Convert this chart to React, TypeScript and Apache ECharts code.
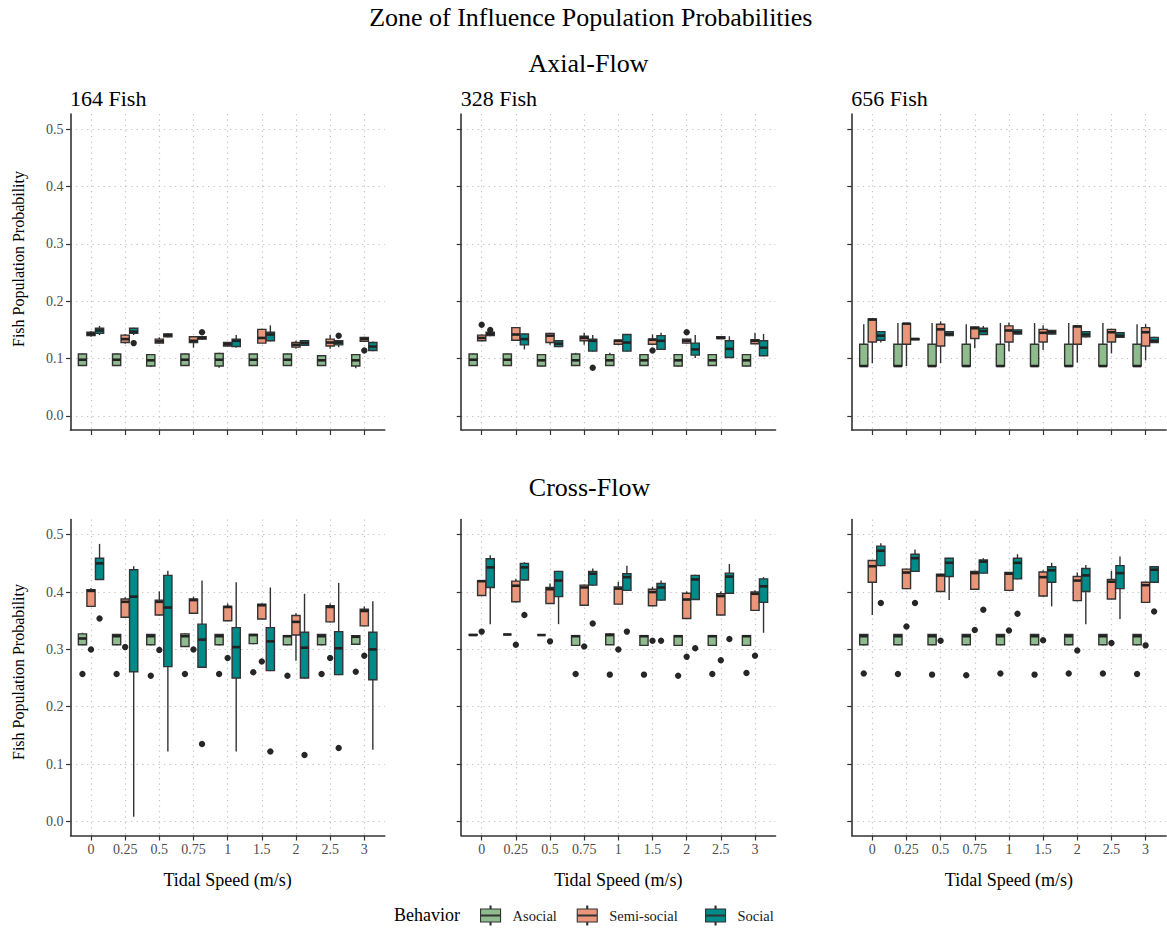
import React, { useEffect, useRef } from 'react';
import * as echarts from 'echarts';

const speedLabels = ['0', '0.25', '0.5', '0.75', '1', '1.5', '2', '2.5', '3'];
const behaviors = ['Asocial', 'Semi-social', 'Social'];
const behaviorColors = ['#8fbc8f', '#e9967a', '#008b8b'];
const yTicks = [0, 0.1, 0.2, 0.3, 0.4, 0.5];
const xTicks = [1, 2, 3, 4, 5, 6, 7, 8, 9];
const fishLabels = ['164 Fish', '328 Fish', '656 Fish'];
const flowLabels = ['Axial-Flow', 'Cross-Flow'];

// each row: [min, q1, median, q3, max] for one tidal speed
const axial164Asocial = [
  [0.087, 0.088, 0.098, 0.108, 0.109], [0.087, 0.088, 0.098, 0.108, 0.109], [0.086, 0.087, 0.097, 0.107, 0.108],
  [0.087, 0.088, 0.098, 0.108, 0.109], [0.084, 0.087, 0.098, 0.109, 0.110], [0.087, 0.088, 0.098, 0.108, 0.108],
  [0.087, 0.088, 0.098, 0.108, 0.109], [0.087, 0.088, 0.097, 0.105, 0.106], [0.083, 0.087, 0.097, 0.107, 0.108],
];
const axial164Semi = [
  [0.138, 0.140, 0.143, 0.146, 0.148], [0.126, 0.128, 0.134, 0.141, 0.143], [0.126, 0.127, 0.130, 0.134, 0.137],
  [0.119, 0.128, 0.131, 0.138, 0.139], [0.121, 0.122, 0.125, 0.128, 0.129], [0.127, 0.127, 0.136, 0.151, 0.152],
  [0.117, 0.120, 0.124, 0.128, 0.131], [0.117, 0.122, 0.128, 0.134, 0.141], [0.129, 0.130, 0.134, 0.137, 0.138],
];
const axial164Social = [
  [0.141, 0.144, 0.149, 0.153, 0.157], [0.141, 0.144, 0.147, 0.153, 0.154], [0.137, 0.138, 0.141, 0.143, 0.144],
  [0.133, 0.134, 0.136, 0.138, 0.139], [0.119, 0.121, 0.131, 0.134, 0.141], [0.130, 0.131, 0.142, 0.146, 0.158],
  [0.122, 0.123, 0.127, 0.131, 0.132], [0.120, 0.124, 0.128, 0.131, 0.132], [0.113, 0.114, 0.121, 0.128, 0.130],
];
// outliers: [speed index, behavior index, value]
const axial164Outliers = [
  [1, 2, 0.127], [3, 2, 0.146], [7, 2, 0.140], [8, 1, 0.114],
];

const axial328Asocial = [
  [0.087, 0.088, 0.098, 0.108, 0.109], [0.087, 0.088, 0.098, 0.108, 0.109], [0.086, 0.087, 0.097, 0.107, 0.108],
  [0.087, 0.088, 0.097, 0.108, 0.110], [0.087, 0.088, 0.097, 0.107, 0.110], [0.087, 0.088, 0.097, 0.107, 0.108],
  [0.086, 0.087, 0.097, 0.107, 0.108], [0.087, 0.088, 0.097, 0.107, 0.108], [0.086, 0.087, 0.097, 0.107, 0.108],
];
const axial328Semi = [
  [0.130, 0.131, 0.136, 0.141, 0.142], [0.131, 0.132, 0.142, 0.154, 0.155], [0.124, 0.128, 0.140, 0.144, 0.145],
  [0.124, 0.131, 0.136, 0.139, 0.145], [0.124, 0.125, 0.131, 0.132, 0.133], [0.124, 0.125, 0.133, 0.134, 0.142],
  [0.126, 0.127, 0.131, 0.134, 0.135], [0.135, 0.135, 0.136, 0.138, 0.138], [0.125, 0.126, 0.131, 0.133, 0.145],
];
const axial328Social = [
  [0.139, 0.140, 0.143, 0.146, 0.147], [0.116, 0.124, 0.134, 0.143, 0.144], [0.120, 0.121, 0.126, 0.131, 0.132],
  [0.112, 0.113, 0.131, 0.134, 0.141], [0.112, 0.113, 0.128, 0.142, 0.143], [0.115, 0.116, 0.131, 0.140, 0.145],
  [0.101, 0.106, 0.116, 0.127, 0.141], [0.101, 0.102, 0.117, 0.131, 0.139], [0.104, 0.105, 0.119, 0.131, 0.143],
];
const axial328Outliers = [
  [0, 1, 0.159], [0, 2, 0.150], [3, 2, 0.084], [5, 1, 0.114], [6, 1, 0.146],
];

const axial656Asocial = [
  [0.086, 0.087, 0.087, 0.125, 0.160], [0.086, 0.087, 0.087, 0.125, 0.162], [0.086, 0.087, 0.087, 0.125, 0.162],
  [0.086, 0.087, 0.087, 0.125, 0.160], [0.086, 0.087, 0.087, 0.125, 0.162], [0.086, 0.087, 0.087, 0.125, 0.162],
  [0.086, 0.087, 0.087, 0.125, 0.162], [0.086, 0.087, 0.087, 0.125, 0.162], [0.086, 0.087, 0.087, 0.125, 0.160],
];
const axial656Semi = [
  [0.092, 0.129, 0.168, 0.169, 0.169], [0.087, 0.125, 0.161, 0.161, 0.161], [0.092, 0.122, 0.151, 0.160, 0.165],
  [0.118, 0.135, 0.153, 0.155, 0.156], [0.113, 0.129, 0.149, 0.157, 0.163], [0.115, 0.129, 0.145, 0.151, 0.158],
  [0.093, 0.125, 0.156, 0.157, 0.157], [0.109, 0.129, 0.146, 0.151, 0.152], [0.097, 0.122, 0.146, 0.154, 0.160],
];
const axial656Social = [
  [0.128, 0.132, 0.140, 0.147, 0.148], [0.133, 0.133, 0.134, 0.135, 0.135], [0.139, 0.140, 0.143, 0.147, 0.148],
  [0.141, 0.142, 0.148, 0.153, 0.157], [0.142, 0.143, 0.146, 0.150, 0.151], [0.142, 0.143, 0.146, 0.149, 0.150],
  [0.137, 0.138, 0.142, 0.147, 0.148], [0.136, 0.137, 0.140, 0.145, 0.146], [0.127, 0.128, 0.131, 0.137, 0.138],
];
const axial656Outliers: number[][] = [];

const cross164Asocial = [
  [0.307, 0.308, 0.319, 0.327, 0.329], [0.307, 0.308, 0.323, 0.326, 0.327], [0.307, 0.308, 0.323, 0.326, 0.327],
  [0.305, 0.305, 0.323, 0.327, 0.328], [0.307, 0.308, 0.323, 0.326, 0.327], [0.309, 0.310, 0.325, 0.326, 0.327],
  [0.307, 0.308, 0.323, 0.324, 0.325], [0.307, 0.308, 0.323, 0.326, 0.327], [0.308, 0.309, 0.322, 0.324, 0.325],
];
const cross164Semi = [
  [0.374, 0.375, 0.402, 0.404, 0.407], [0.355, 0.356, 0.383, 0.388, 0.391], [0.359, 0.360, 0.383, 0.386, 0.401],
  [0.362, 0.363, 0.386, 0.388, 0.392], [0.349, 0.350, 0.374, 0.375, 0.380], [0.352, 0.353, 0.377, 0.379, 0.380],
  [0.280, 0.325, 0.348, 0.359, 0.363], [0.347, 0.348, 0.374, 0.376, 0.380], [0.340, 0.341, 0.367, 0.370, 0.375],
];
const cross164Social = [
  [0.421, 0.422, 0.450, 0.459, 0.484], [0.008, 0.261, 0.392, 0.439, 0.445], [0.122, 0.270, 0.373, 0.429, 0.437],
  [0.268, 0.269, 0.317, 0.344, 0.420], [0.122, 0.250, 0.304, 0.338, 0.417], [0.262, 0.263, 0.314, 0.338, 0.408],
  [0.249, 0.250, 0.303, 0.330, 0.397], [0.255, 0.256, 0.302, 0.331, 0.416], [0.125, 0.247, 0.300, 0.330, 0.384],
];
const cross164Outliers = [
  [0, 0, 0.257], [1, 0, 0.257], [2, 0, 0.254], [3, 0, 0.257], [4, 0, 0.257], [5, 0, 0.260], [6, 0, 0.254], [7, 0, 0.257], [8, 0, 0.261],
  [0, 1, 0.300], [1, 1, 0.304], [2, 1, 0.299], [3, 1, 0.300], [4, 1, 0.285], [5, 1, 0.279], [7, 1, 0.285], [8, 1, 0.289],
  [0, 2, 0.354], [3, 2, 0.135], [5, 2, 0.122], [6, 2, 0.116], [7, 2, 0.128],
];

const cross328Asocial = [
  [0.325, 0.325, 0.325, 0.326, 0.326], [0.326, 0.326, 0.326, 0.326, 0.326], [0.325, 0.325, 0.325, 0.325, 0.325],
  [0.307, 0.307, 0.323, 0.324, 0.325], [0.308, 0.308, 0.325, 0.327, 0.328], [0.307, 0.307, 0.323, 0.324, 0.325],
  [0.307, 0.307, 0.323, 0.324, 0.325], [0.307, 0.307, 0.323, 0.324, 0.325], [0.307, 0.307, 0.323, 0.324, 0.325],
];
const cross328Semi = [
  [0.393, 0.394, 0.419, 0.420, 0.421], [0.382, 0.383, 0.411, 0.419, 0.423], [0.379, 0.380, 0.405, 0.408, 0.415],
  [0.376, 0.377, 0.408, 0.412, 0.413], [0.378, 0.379, 0.406, 0.409, 0.418], [0.375, 0.376, 0.400, 0.405, 0.409],
  [0.353, 0.354, 0.387, 0.398, 0.401], [0.359, 0.360, 0.393, 0.397, 0.401], [0.367, 0.368, 0.397, 0.400, 0.403],
];
const cross328Social = [
  [0.344, 0.408, 0.443, 0.458, 0.464], [0.420, 0.421, 0.443, 0.450, 0.452], [0.344, 0.392, 0.420, 0.436, 0.437],
  [0.411, 0.412, 0.432, 0.436, 0.441], [0.402, 0.403, 0.426, 0.432, 0.446], [0.385, 0.386, 0.408, 0.415, 0.420],
  [0.386, 0.387, 0.422, 0.429, 0.430], [0.397, 0.398, 0.427, 0.433, 0.449], [0.329, 0.382, 0.410, 0.423, 0.426],
];
const cross328Outliers = [
  [3, 0, 0.257], [4, 0, 0.256], [5, 0, 0.256], [6, 0, 0.254], [7, 0, 0.257], [8, 0, 0.259],
  [0, 1, 0.331], [1, 1, 0.308], [2, 1, 0.314], [3, 1, 0.305], [4, 1, 0.300], [5, 1, 0.315], [6, 1, 0.287], [7, 1, 0.281], [8, 1, 0.289],
  [1, 2, 0.360], [3, 2, 0.345], [4, 2, 0.331], [5, 2, 0.315], [6, 2, 0.302], [7, 2, 0.318],
];

const cross656Asocial = [
  [0.307, 0.308, 0.323, 0.326, 0.327], [0.307, 0.308, 0.323, 0.326, 0.327], [0.307, 0.308, 0.323, 0.326, 0.327],
  [0.307, 0.308, 0.323, 0.326, 0.327], [0.307, 0.308, 0.323, 0.326, 0.327], [0.307, 0.308, 0.323, 0.326, 0.327],
  [0.307, 0.308, 0.323, 0.326, 0.327], [0.307, 0.308, 0.323, 0.326, 0.327], [0.307, 0.308, 0.323, 0.326, 0.327],
];
const cross656Semi = [
  [0.360, 0.417, 0.445, 0.455, 0.456], [0.405, 0.406, 0.434, 0.440, 0.441], [0.400, 0.401, 0.429, 0.431, 0.432],
  [0.404, 0.405, 0.433, 0.436, 0.437], [0.402, 0.403, 0.432, 0.434, 0.435], [0.392, 0.393, 0.426, 0.435, 0.438],
  [0.384, 0.385, 0.420, 0.427, 0.434], [0.387, 0.388, 0.418, 0.422, 0.437], [0.381, 0.382, 0.412, 0.417, 0.418],
];
const cross656Social = [
  [0.445, 0.446, 0.472, 0.480, 0.485], [0.435, 0.436, 0.459, 0.466, 0.474], [0.386, 0.427, 0.451, 0.459, 0.460],
  [0.432, 0.433, 0.453, 0.456, 0.459], [0.422, 0.423, 0.451, 0.459, 0.466], [0.375, 0.417, 0.438, 0.444, 0.451],
  [0.344, 0.401, 0.429, 0.441, 0.447], [0.353, 0.406, 0.433, 0.446, 0.462], [0.416, 0.417, 0.439, 0.444, 0.445],
];
const cross656Outliers = [
  [0, 0, 0.258], [1, 0, 0.257], [2, 0, 0.256], [3, 0, 0.255], [4, 0, 0.258], [5, 0, 0.256], [6, 0, 0.258], [7, 0, 0.258], [8, 0, 0.257],
  [1, 1, 0.340], [2, 1, 0.315], [3, 1, 0.334], [4, 1, 0.333], [5, 1, 0.316], [6, 1, 0.298], [7, 1, 0.311], [8, 1, 0.307],
  [0, 2, 0.381], [1, 2, 0.381], [3, 2, 0.369], [4, 2, 0.362], [8, 2, 0.366],
];

const panels = [
  { row: 0, col: 0, boxes: [axial164Asocial, axial164Semi, axial164Social], outliers: axial164Outliers },
  { row: 0, col: 1, boxes: [axial328Asocial, axial328Semi, axial328Social], outliers: axial328Outliers },
  { row: 0, col: 2, boxes: [axial656Asocial, axial656Semi, axial656Social], outliers: axial656Outliers },
  { row: 1, col: 0, boxes: [cross164Asocial, cross164Semi, cross164Social], outliers: cross164Outliers },
  { row: 1, col: 1, boxes: [cross328Asocial, cross328Semi, cross328Social], outliers: cross328Outliers },
  { row: 1, col: 2, boxes: [cross656Asocial, cross656Semi, cross656Social], outliers: cross656Outliers },
];

// layout
const PANEL_LEFT = [70.5, 461.2, 851.8];
const PANEL_W = 314.3;
const ROW_TOP = [114, 519.5];
const PANEL_H = 316;
const DODGE = [-0.25, 0, 0.25];
const BOX_W = 0.24;
const FONT = '"Liberation Serif", "Times New Roman", serif';
const INK = '#333333';

const gridLine = { show: true, lineStyle: { color: '#c4c4c4', width: 1.2, type: [1.3, 4.2] } };

const makeBoxRender = (offset: number, color: string) => (_params: any, api: any) => {
  const x = api.value(0) + offset;
  const pMin = api.coord([x, api.value(1)]);
  const pQ1 = api.coord([x, api.value(2)]);
  const pMed = api.coord([x, api.value(3)]);
  const pQ3 = api.coord([x, api.value(4)]);
  const pMax = api.coord([x, api.value(5)]);
  const half = api.size([BOX_W, 0])[0] / 2;
  const cx = pMed[0];
  const ln = { stroke: INK, lineWidth: 1.4 };
  return {
    type: 'group',
    children: [
      { type: 'line', shape: { x1: cx, y1: pMax[1], x2: cx, y2: pQ3[1] }, style: ln },
      { type: 'line', shape: { x1: cx, y1: pQ1[1], x2: cx, y2: pMin[1] }, style: ln },
      {
        type: 'rect',
        shape: { x: cx - half, y: pQ3[1], width: half * 2, height: Math.max(pQ1[1] - pQ3[1], 0) },
        style: { fill: color, stroke: INK, lineWidth: 1.4 },
      },
      { type: 'line', shape: { x1: cx - half, y1: pMed[1], x2: cx + half, y2: pMed[1] }, style: { stroke: '#222', lineWidth: 2.6 } },
    ],
  };
};

const outlierRender = (_params: any, api: any) => {
  const b = api.value(1);
  const p = api.coord([api.value(0) + DODGE[b], api.value(2)]);
  return { type: 'circle', shape: { cx: p[0], cy: p[1], r: 3.2 }, style: { fill: '#262626' } };
};

const LEGEND_ICON = 'path://M0,3H20V16H0Z M0,9H20V10H0Z M9.5,0H10.5V3H9.5Z M9.5,16H10.5V19H9.5Z';

function buildOption() {
  const grid: any[] = [];
  const xAxis: any[] = [];
  const yAxis: any[] = [];
  const series: any[] = [];
  panels.forEach((p, i) => {
    grid.push({
      left: PANEL_LEFT[p.col], top: ROW_TOP[p.row], width: PANEL_W, height: PANEL_H,
      containLabel: false, outerBoundsMode: 'none',
    });
    xAxis.push({
      gridIndex: i, type: 'value', min: 0.4, max: 9.6,
      axisLine: { show: true, onZero: false, lineStyle: { color: INK, width: 1.6 } },
      axisTick: { show: true, customValues: xTicks, length: 5, lineStyle: { color: INK, width: 1.2 } },
      axisLabel: {
        show: p.row === 1, customValues: xTicks, margin: 7,
        formatter: (v: number) => speedLabels[Math.round(v) - 1] ?? '',
        color: '#4d4d4d', fontSize: 14, fontFamily: FONT,
      },
      splitLine: gridLine,
      name: p.row === 1 ? 'Tidal Speed (m/s)' : '',
      nameLocation: 'middle', nameGap: 35,
      nameTextStyle: { fontSize: 18, color: '#000', fontFamily: FONT },
    });
    yAxis.push({
      gridIndex: i, type: 'value', min: -0.0245, max: 0.5265,
      axisLine: { show: true, onZero: false, lineStyle: { color: INK, width: 1.6 } },
      axisTick: { show: true, customValues: yTicks, length: 4.5, lineStyle: { color: INK, width: 1.2 } },
      axisLabel: {
        show: p.col === 0, customValues: yTicks, margin: 7,
        formatter: (v: number) => v.toFixed(1),
        color: '#4d4d4d', fontSize: 14, fontFamily: FONT,
      },
      splitLine: gridLine,
    });
    p.boxes.forEach((arr, b) => {
      series.push({
        type: 'custom', name: behaviors[b], xAxisIndex: i, yAxisIndex: i,
        itemStyle: { color: behaviorColors[b] },
        renderItem: makeBoxRender(DODGE[b], behaviorColors[b]),
        encode: { x: 0, y: [1, 2, 3, 4, 5] },
        data: arr.map((v, k) => [k + 1, ...v]),
        silent: true,
      });
    });
    series.push({
      type: 'custom', name: 'Outliers', xAxisIndex: i, yAxisIndex: i,
      renderItem: outlierRender,
      encode: { x: 0, y: 2 },
      data: p.outliers.map((o) => [o[0] + 1, o[1], o[2]]),
      silent: true,
    });
  });

  const legendLefts = [480, 576.7, 705];
  const legend = behaviors.map((name, b) => ({
    left: legendLefts[b], top: 905.5, padding: 0,
    data: [{ name, icon: LEGEND_ICON }],
    itemWidth: 20, itemHeight: 19,
    itemStyle: { borderColor: INK, borderWidth: 1.1 },
    textStyle: { fontSize: 14.5, fontFamily: FONT, color: '#1a1a1a', padding: [0, 0, 0, 7] },
    selectedMode: false,
  }));

  const txt = (text: string, x: number, y: number, size: number, align = 'center', rotation = 0) => ({
    type: 'text', x, y, rotation, silent: true,
    style: { text, fontSize: size, fontFamily: FONT, fill: '#000', align, verticalAlign: 'middle' },
  });

  const graphic: any[] = [
    txt('Zone of Influence Population Probabilities', 590.8, 17.2, 26),
    txt(flowLabels[0], 588.5, 63, 26),
    txt(flowLabels[1], 589.5, 487.5, 26),
    txt('Fish Population Probability', 18.3, 259, 16, 'center', Math.PI / 2),
    txt('Fish Population Probability', 18.3, 672, 16, 'center', Math.PI / 2),
    txt('Behavior', 394, 915, 18, 'left'),
  ];
  fishLabels.forEach((t, c) => graphic.push(txt(t, PANEL_LEFT[c] - 0.5, 98.6, 22, 'left')));

  return {
    animation: false,
    backgroundColor: '#ffffff',
    textStyle: { fontFamily: FONT },
    grid, xAxis, yAxis, series, legend, graphic,
  };
}

export default function App() {
  const ref = useRef<HTMLDivElement>(null);
  useEffect(() => {
    if (!ref.current) return;
    const chart = echarts.init(ref.current, undefined, { renderer: 'svg' });
    chart.setOption(buildOption() as any);
    return () => chart.dispose();
  }, []);
  return <div ref={ref} style={{ position: 'absolute', left: 0, top: 0, width: 1167, height: 928 }} />;
}
